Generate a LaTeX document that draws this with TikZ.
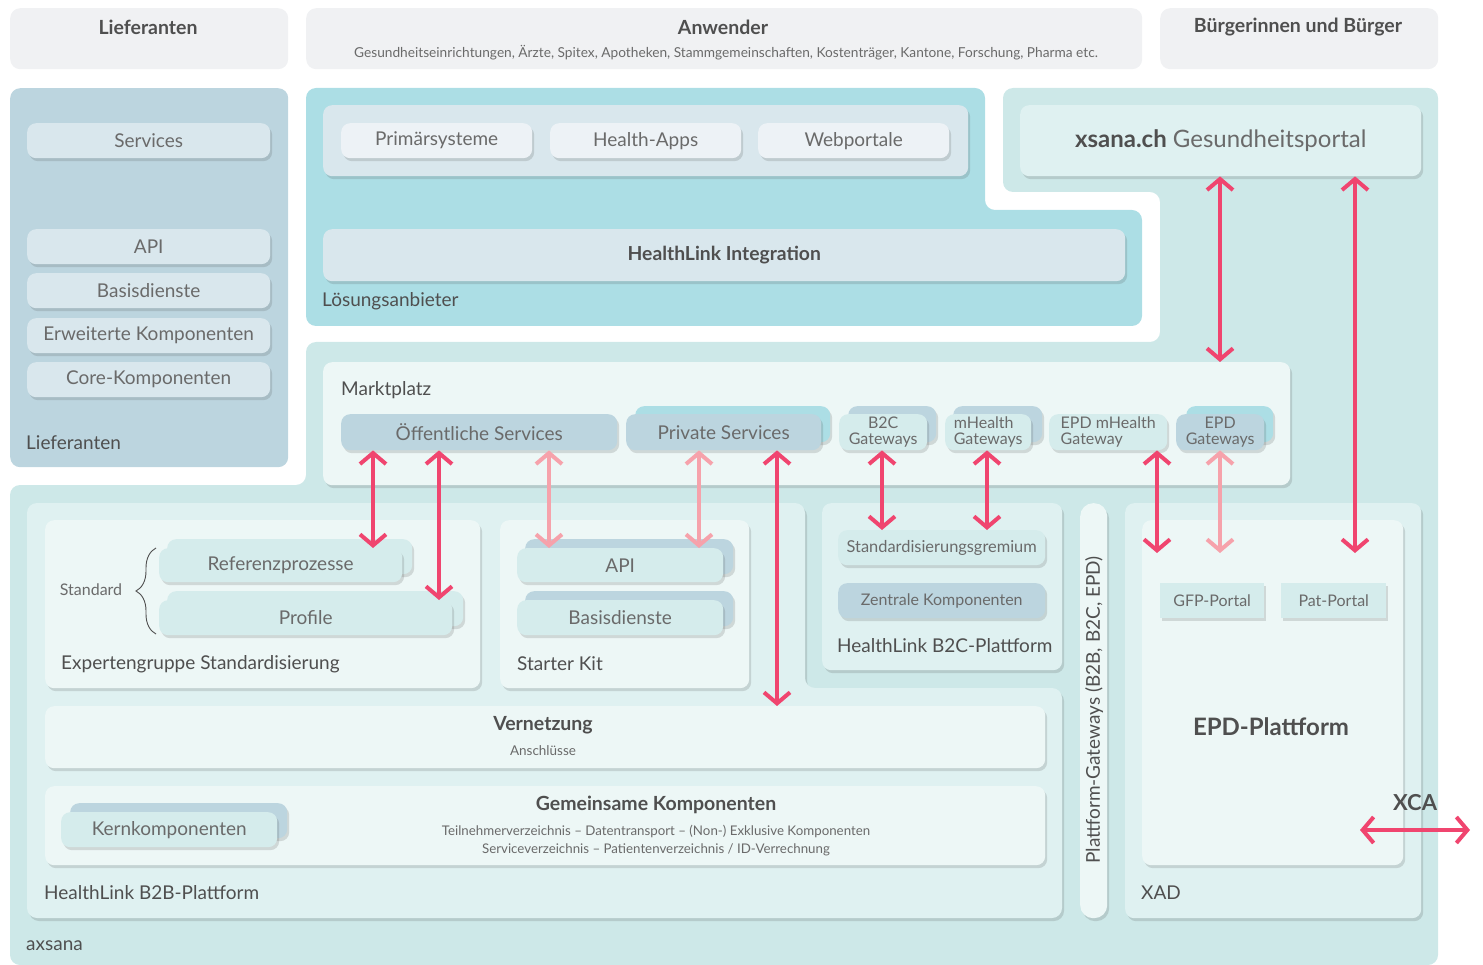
\documentclass[tikz,border=0pt]{standalone}
\usepackage{fontspec}
\setmainfont{Lato}
\usetikzlibrary{arrows.meta,shadows,decorations.pathreplacing}

\definecolor{hdrgray}{HTML}{F0F1F3}
\definecolor{liefblue}{HTML}{BCD5DF}
\definecolor{pillblue}{HTML}{D9E7ED}
\definecolor{pillpale}{HTML}{EDF2F6}
\definecolor{cyanbg}{HTML}{ACDEE5}
\definecolor{tealbg}{HTML}{CDE8E8}
\definecolor{tealmid}{HTML}{DFF1F1}
\definecolor{tealpale}{HTML}{EDF7F6}
\definecolor{tealitem}{HTML}{D5ECEC}
\definecolor{pinkA}{HTML}{F0456F}
\definecolor{pinkB}{HTML}{F6A2AB}
\definecolor{txtdark}{HTML}{4F4F4F}
\definecolor{txtgray}{HTML}{6A6A6A}

\newcommand{\fsz}[1]{\fontsize{#1}{#1}\selectfont}

\begin{document}
\begin{tikzpicture}[x=1pt,y=-1pt,
    dropsh/.style={drop shadow={shadow xshift=2pt,shadow yshift=-3pt,opacity=0.18,fill=black!70}},
    hdr/.style={fill=hdrgray,rounded corners=10pt,minimum height=61,minimum width=278,anchor=north west},
    box/.style={rounded corners=9pt,inner sep=0pt,anchor=north west,dropsh},
    pill/.style={box,minimum height=35,font=\fsz{19}\color{txtgray}},
    gway/.style={box,minimum height=36,font=\fsz{16}\color{txtgray}},
    lbl/.style={anchor=west,inner sep=0pt,font=\fsz{19}\color{txtdark}},
    ttl/.style={inner sep=0pt,font=\bfseries\fsz{19.5}\color{txtdark}},
    link/.style={draw=pinkA,line width=4pt,{Straight Barb[length=11pt,width=26pt]}-{Straight Barb[length=11pt,width=26pt]}},
    linklite/.style={link,draw=pinkB}]

    \useasboundingbox (0,0) rectangle (1483,965);

    % top row
    \node[hdr] (hdrlief) at (10,8) {};
    \node[hdr,minimum width=836] (hdranw) at (306,8) {};
    \node[hdr] (hdrbuerg) at (1160,8) {};
    \node[ttl] (tlief) at (148,27) {Lieferanten};
    \node[ttl] (tanw) at (723,27) {Anwender};
    \node[inner sep=0pt,font=\fsz{13.7}\color{txtgray}] (tanwsub) at (726,53)
        {Gesundheitseinrichtungen, Ärzte, Spitex, Apotheken, Stammgemeinschaften, Kostenträger, Kantone, Forschung, Pharma etc.};
    \node[ttl] (tbuerg) at (1298,27) {Bürgerinnen und Bürger};

    % Lieferanten column
    \node[fill=liefblue,rounded corners=10pt,minimum width=278,minimum height=379,anchor=north west] (lief) at (10,88) {};
    \node[pill,fill=pillblue,minimum width=243] (services) at (27,123) {Services};
    \node[pill,fill=pillblue,minimum width=243] (api) at (27,229) {API};
    \node[pill,fill=pillblue,minimum width=243] (basis) at (27,273) {Basisdienste};
    \node[pill,fill=pillblue,minimum width=243] (erwkomp) at (27,318) {Erweiterte Komponenten};
    \node[pill,fill=pillblue,minimum width=243] (corekomp) at (27,362) {Core-Komponenten};
    \node[lbl] (llief) at (26,443) {Lieferanten};

    % background areas
    \path[fill=cyanbg,rounded corners=10pt] (306,88) -- (985,88) -- (985,210) -- (1142,210)
        -- (1142,326) -- (306,326) -- cycle;
    \path[fill=tealbg,rounded corners=10pt] (1003,88) -- (1438,88) -- (1438,965) -- (10,965)
        -- (10,485) -- (306,485) -- (306,342) -- (1160,342) -- (1160,192) -- (1003,192) -- cycle;

    % Loesungsanbieter
    \node[box,fill=pillblue,minimum width=645,minimum height=71] (apps) at (323,105) {};
    \node[pill,fill=pillpale,minimum width=191] (prim) at (341,123) {Primärsysteme};
    \node[pill,fill=pillpale,minimum width=191] (happs) at (550,123) {Health-Apps};
    \node[pill,fill=pillpale,minimum width=191] (webp) at (758,123) {Webportale};
    \node[box,fill=pillblue,minimum width=802,minimum height=52,font=\bfseries\fsz{19.3}\color{txtdark}] (hlint) at (323,229) {HealthLink Integration};
    \node[lbl] (lloes) at (322,301) {Lösungsanbieter};

    % portal
    \node[box,fill=tealmid,minimum width=401,minimum height=71,font=\fsz{24}\color{txtgray}] (portal) at (1020,105)
        {{\bfseries\color{txtdark}xsana.ch} Gesundheitsportal};

    % Marktplatz
    \node[box,fill=tealpale,minimum width=967,minimum height=123] (markt) at (323,362) {};
    \node[lbl] (lmarkt) at (341,390) {Marktplatz};
    \node[pill,fill=liefblue,minimum width=276,minimum height=36] (oeff) at (341,414) {Öffentliche Services};
    \node[box,fill=cyanbg,minimum width=195,minimum height=36] (privb) at (635,406) {};
    \node[pill,fill=liefblue,minimum width=195,minimum height=36] (priv) at (626,414) {Private Services};
    \node[box,fill=liefblue,minimum width=88,minimum height=36] (bzcb) at (848,406) {};
    \node[gway,fill=tealitem,minimum width=88,align=center] (bzc) at (839,414) {B2C\\Gateways};
    \node[box,fill=liefblue,minimum width=89,minimum height=36] (mhealthb) at (953,406) {};
    \node[gway,fill=tealitem,minimum width=86,align=left] (mhealth) at (945,414) {mHealth\\Gateways};
    \node[gway,fill=tealitem,minimum width=118,align=left] (epdmh) at (1049,414) {EPD mHealth\\Gateway};
    \node[box,fill=cyanbg,minimum width=87,minimum height=36] (epdgwb) at (1186,406) {};
    \node[gway,fill=liefblue,minimum width=88,align=center] (epdgw) at (1176,414) {EPD\\Gateways};

    % HealthLink B2B-Plattform
    \path[fill=tealmid,rounded corners=10pt,dropsh] (27,503) -- (805,503) -- (805,688) -- (1062,688)
        -- (1062,918) -- (27,918) -- cycle;
    \node[box,fill=tealpale,minimum width=435,minimum height=168] (expert) at (45,520) {};
    \node[lbl] (lexpert) at (61,664) {Expertengruppe Standardisierung};
    \node[inner sep=0pt,font=\fsz{16}\color{txtgray}] (tstd) at (91,590) {Standard};
    \draw[txtdark,line width=0.9pt,decorate,decoration={brace,amplitude=20pt,aspect=0.5}] (156,634) -- (156,548);
    \node[box,fill=tealitem,minimum width=245,minimum height=35] (refprozb) at (167,539) {};
    \node[pill,fill=tealitem,minimum width=243,minimum height=34] (refproz) at (159,548) {Referenzprozesse};
    \node[box,fill=tealitem,minimum width=296,minimum height=35] (profileb) at (167,591) {};
    \node[pill,fill=tealitem,minimum width=293] (profile) at (159,600) {Profile};
    \node[box,fill=tealpale,minimum width=249,minimum height=168] (starter) at (500,520) {};
    \node[lbl] (lstarter) at (517,664) {Starter Kit};
    \node[box,fill=liefblue,minimum width=208,minimum height=35] (skapib) at (525,539) {};
    \node[pill,fill=tealitem,minimum width=206,minimum height=34] (skapi) at (517,548) {API};
    \node[box,fill=liefblue,minimum width=208,minimum height=35] (skbasisb) at (525,591) {};
    \node[pill,fill=tealitem,minimum width=206] (skbasis) at (517,600) {Basisdienste};
    \node[box,fill=tealpale,minimum width=1000,minimum height=62] (vernetz) at (45,706) {};
    \node[ttl] (tvernetz) at (543,725) {Vernetzung};
    \node[inner sep=0pt,font=\fsz{13.5}\color{txtgray}] (tanschl) at (543,751) {Anschlüsse};
    \node[box,fill=tealpale,minimum width=1000,minimum height=79] (gemkomp) at (45,786) {};
    \node[box,fill=liefblue,minimum width=217,minimum height=35] (kernb) at (70,803) {};
    \node[pill,fill=tealitem,minimum width=216] (kern) at (61,812) {Kernkomponenten};
    \node[ttl] (tgemkomp) at (656,805) {Gemeinsame Komponenten};
    \node[inner sep=0pt,font=\fsz{13.3}\color{txtgray}] (tgem1) at (656,831)
        {Teilnehmerverzeichnis – Datentransport – (Non-) Exklusive Komponenten};
    \node[inner sep=0pt,font=\fsz{13.3}\color{txtgray}] (tgem2) at (656,850)
        {Serviceverzeichnis – Patientenverzeichnis / ID-Verrechnung};
    \node[lbl] (lbzb) at (44,893) {HealthLink B2B-Plattform};

    % HealthLink B2C-Plattform
    \node[box,fill=tealmid,minimum width=240,minimum height=167] (bzcplat) at (822,503) {};
    \node[gway,fill=tealitem,minimum width=207,minimum height=35,font=\fsz{16.4}\color{txtgray}] (stdgrem) at (838,530) {Standardisierungsgremium};
    \node[gway,fill=liefblue,minimum width=207,minimum height=35] (zentral) at (838,583) {Zentrale Komponenten};
    \node[lbl] (lbzc) at (837,646) {HealthLink B2C-Plattform};

    % Plattform-Gateways
    \node[box,fill=tealpale,rounded corners=13pt,minimum width=27,minimum height=415] (pgw) at (1080,503) {};
    \node[inner sep=0pt,rotate=90,font=\fsz{19}\color{txtdark}] (tpgw) at (1094,710) {Plattform-Gateways (B2B, B2C, EPD)};

    % XAD
    \node[box,fill=tealmid,minimum width=296,minimum height=415] (xad) at (1125,503) {};
    \node[box,fill=tealpale,minimum width=261,minimum height=345] (epdplat) at (1142,520) {};
    \node[box,rounded corners=0pt,fill=tealitem,minimum width=104,minimum height=35,font=\fsz{16}\color{txtgray}] (gfp) at (1160,583) {GFP-Portal};
    \node[box,rounded corners=0pt,fill=tealitem,minimum width=105,minimum height=35,font=\fsz{16}\color{txtgray}] (pat) at (1281,583) {Pat-Portal};
    \node[inner sep=0pt,font=\bfseries\fsz{24}\color{txtdark}] (tepd) at (1271,727) {EPD-Plattform};
    \node[lbl] (lxad) at (1141,893) {XAD};
    \node[inner sep=0pt,font=\bfseries\fsz{22}\color{txtdark}] (txca) at (1415,803) {XCA};

    \node[lbl] (laxsana) at (26,946) {axsana};

    % arrow positions
    \coordinate (c1) at (373,0);
    \coordinate (c2) at (439,0);
    \coordinate (c3) at (549,0);
    \coordinate (c4) at (699,0);
    \coordinate (c5) at (777,0);
    \coordinate (c6) at (882,0);
    \coordinate (c7) at (987,0);
    \coordinate (c8) at (1157,0);
    \coordinate (c9) at (1220,0);
    \coordinate (c10) at (1355,0);
    \coordinate (xcal) at (1360,830);
    \coordinate (xcar) at (1470,830);

    % arrows
    \draw[link] (oeff.south -| c1) -- (refproz.north -| c1);
    \draw[link] (oeff.south -| c2) -- (profile.north -| c2);
    \draw[linklite] (oeff.south -| c3) -- (skapi.north -| c3);
    \draw[linklite] (priv.south -| c4) -- (skapi.north -| c4);
    \draw[link] (priv.south -| c5) -- (vernetz.north -| c5);
    \draw[link] (bzc.south -| c6) -- (stdgrem.north -| c6);
    \draw[link] (mhealth.south -| c7) -- (stdgrem.north -| c7);
    \draw[link,shorten >=30pt] (epdmh.south -| c8) -- (gfp.north -| c8);
    \draw[linklite,shorten >=30pt] (epdgw.south -| c9) -- (gfp.north -| c9);
    \draw[link] (portal.south -| c9) -- (markt.north -| c9);
    \draw[link,shorten >=30pt] (portal.south -| c10) -- (pat.north -| c10);
    \draw[link] (xcal) -- (xcar);

\end{tikzpicture}
\end{document}
